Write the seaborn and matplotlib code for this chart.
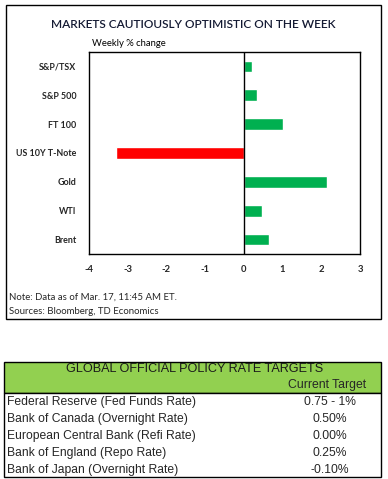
import matplotlib
matplotlib.use("Agg")
import matplotlib.pyplot as plt
import seaborn as sns
import pandas as pd
from matplotlib.patches import Rectangle

# ---- data ----
categories = ["S&P/TSX", "S&P 500", "FT 100", "US 10Y T-Note", "Gold", "WTI", "Brent"]
weekly_change = [0.22, 0.33, 1.02, -3.29, 2.16, 0.48, 0.64]
x_ticks = [-4, -3, -2, -1, 0, 1, 2, 3]

banks = ["Federal Reserve (Fed Funds Rate)", "Bank of Canada (Overnight Rate)",
         "European Central Bank (Refi Rate)", "Bank of England (Repo Rate)",
         "Bank of Japan (Overnight Rate)"]
targets = ["0.75 - 1%", "0.50%", "0.00%", "0.25%", "-0.10%"]

sns.set_theme(style="white")
plt.rcParams['font.family'] = ['Lato', 'DejaVu Sans']

W, H = 388, 479
fig = plt.figure(figsize=(W / 100, H / 100), dpi=100)

def fx(x):
    return x / W

def fy(y):
    return 1 - y / H

# outer chart border
fig.patches.append(Rectangle((fx(6), fy(319)), fx(375), (319 - 5) / H, fill=False,
                             edgecolor="black", linewidth=1.0, transform=fig.transFigure))

fig.text(fx(193.5), fy(25), "MARKETS CAUTIOUSLY OPTIMISTIC ON THE WEEK", ha="center", va="center",
         fontsize=8.6, fontweight="semibold", color="#141a33")
fig.text(fx(92), fy(44), "Weekly % change", ha="left", va="center", fontsize=6.8, color="black")

ax = fig.add_axes([fx(89), fy(254), fx(271), 202 / H])
df = pd.DataFrame({"cat": categories, "val": weekly_change})
df["sign"] = ["neg" if v < 0 else "pos" for v in weekly_change]
sns.barplot(data=df, y="cat", x="val", hue="sign", orient="h", ax=ax,
            palette={"pos": "#00B050", "neg": "#FF0000"}, width=0.41,
            legend=False, saturation=1, dodge=False)
ax.set_xlim(-4, 3)
ax.set_xticks(x_ticks)
ax.set_xticklabels([str(t) for t in x_ticks], fontweight="bold", fontsize=6.8)
ax.set_yticklabels(categories, fontweight="bold", fontsize=6.4)
ax.set_xlabel("")
ax.set_ylabel("")
ax.axvline(0, color="black", linewidth=1.0)
for s in ax.spines.values():
    s.set_color("black")
    s.set_linewidth(1.0)
    s.set_visible(True)
ax.tick_params(axis="both", length=0)
ax.tick_params(axis="y", pad=9)
ax.tick_params(axis="x", pad=8)

fig.text(fx(9), fy(297), "Note: Data as of Mar. 17, 11:45 AM ET.", ha="left", va="center", fontsize=6.9)
fig.text(fx(9), fy(311), "Sources: Bloomberg, TD Economics", ha="left", va="center", fontsize=6.9)

# ---- table ----
tf = "Liberation Sans"
fig.patches.append(Rectangle((fx(4), fy(393)), fx(377), (393 - 362) / H, facecolor="#92D050",
                             edgecolor="black", linewidth=1.0, transform=fig.transFigure))
fig.patches.append(Rectangle((fx(4), fy(477)), fx(377), (477 - 393) / H, facecolor="white",
                             edgecolor="black", linewidth=1.0, transform=fig.transFigure))
fig.text(fx(194.5), fy(368.5), "GLOBAL OFFICIAL POLICY RATE TARGETS", ha="center", va="center",
         fontsize=9.1, family=tf, color="#1a1a1a")
fig.text(fx(366), fy(385), "Current Target", ha="right", va="center", fontsize=8.8, family=tf)
for i, (b, t) in enumerate(zip(banks, targets)):
    y = 402 + i * 17
    fig.text(fx(7), fy(y), b, ha="left", va="center", fontsize=8.7, family=tf)
    fig.text(fx(330), fy(y), t, ha="center", va="center", fontsize=8.7, family=tf)

fig.savefig("out.png", dpi=100)
